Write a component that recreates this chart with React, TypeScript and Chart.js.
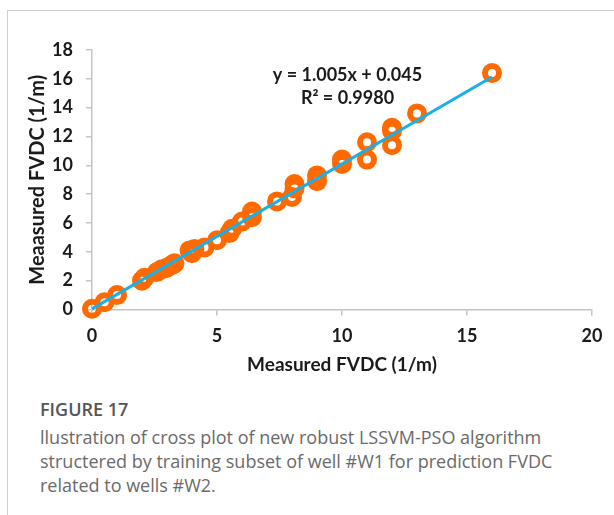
import React, { useEffect, useRef } from "react";
import { Chart, registerables } from "chart.js";

Chart.register(...registerables);

// Measured (x) vs predicted (y) FVDC values
const measuredX = [0, 0.5, 1.0, 2.0, 2.1, 2.6, 2.8, 3.0, 3.2, 3.3, 3.9, 4.0, 4.1, 4.5, 5.0, 5.5, 5.6, 6.0, 6.4, 6.4, 7.4, 8.0, 8.1, 8.1, 9.0, 9.0, 10.0, 10.0, 11.0, 11.0, 12.0, 12.0, 12.0, 13.0, 16.0];
const predictedY = [0.05, 0.5, 1.0, 2.0, 2.2, 2.6, 2.8, 2.9, 3.1, 3.2, 4.1, 3.9, 4.2, 4.3, 4.8, 5.3, 5.6, 6.1, 6.4, 6.8, 7.5, 7.8, 8.4, 8.7, 8.9, 9.3, 10.1, 10.4, 10.4, 11.6, 11.4, 12.4, 12.6, 13.6, 16.4];

// Linear trend line: y = slope * x + intercept, drawn between these x values
const trendSlope = 1.005;
const trendIntercept = 0.045;
const trendX = [0, 16];

const equationLabel = "y = 1.005x + 0.045";
const r2Label = "R² = 0.9980";

const xAxisTitle = "Measured FVDC (1/m)";
const yAxisTitle = "Meaasured FVDC (1/m)";

const captionTitle = "FIGURE 17";
const captionLines = [
  "llustration of cross plot of new robust LSSVM-PSO algorithm",
  "structered by training subset of well #W1 for prediction FVDC",
  "related to wells #W2.",
];

const FONT = "Lato, 'Open Sans', sans-serif";
const TEXT_DARK = "#1a1a1a";
const AXIS_GREY = "#c4c4c4";

export default function App() {
  const canvasRef = useRef<HTMLCanvasElement | null>(null);

  useEffect(() => {
    const canvas = canvasRef.current;
    if (!canvas) return;

    const scatterData = measuredX.map((x, i) => ({ x, y: predictedY[i] }));
    const trendData = trendX.map((x) => ({ x, y: trendSlope * x + trendIntercept }));

    const equationPlugin = {
      id: "equationText",
      afterDatasetsDraw(chart: any) {
        const { ctx, scales } = chart;
        const cx = scales.x.getPixelForValue(10.22);
        ctx.save();
        ctx.fillStyle = TEXT_DARK;
        ctx.font = `bold 18px ${FONT}`;
        ctx.textAlign = "center";
        ctx.textBaseline = "middle";
        ctx.fillText(equationLabel, cx, scales.y.getPixelForValue(16.27));
        ctx.fillText(r2Label, cx, scales.y.getPixelForValue(14.65));
        ctx.restore();
      },
    };

    const chart = new Chart(canvas, {
      type: "scatter",
      data: {
        datasets: [
          {
            type: "line",
            label: "Trend",
            data: trendData,
            borderColor: "#1aafe6",
            borderWidth: 3,
            pointRadius: 0,
            fill: false,
            clip: false,
            order: 0,
          } as any,
          {
            type: "scatter",
            label: "Data",
            data: scatterData,
            borderColor: "#ff6a00",
            backgroundColor: "rgba(0,0,0,0)",
            borderWidth: 6,
            pointRadius: 7,
            pointHoverRadius: 7,
            clip: false,
            order: 1,
          } as any,
        ],
      },
      options: {
        responsive: false,
        animation: false,
        layout: { padding: { left: 0, right: 22, top: 50, bottom: 0 } },
        plugins: {
          legend: { display: false },
          tooltip: { enabled: false },
        },
        scales: {
          x: {
            type: "linear",
            min: 0,
            max: 20,
            ticks: {
              stepSize: 5,
              color: TEXT_DARK,
              font: { family: FONT, size: 18, weight: "bold" },
              padding: 10,
            },
            grid: {
              drawOnChartArea: false,
              drawTicks: true,
              tickLength: 6,
              color: AXIS_GREY,
              lineWidth: 1.5,
            },
            border: { color: AXIS_GREY, width: 1.5 },
            title: {
              display: true,
              text: xAxisTitle,
              color: TEXT_DARK,
              font: { family: FONT, size: 19, weight: "bold" },
              padding: { top: 0, bottom: 8.5 },
            },
            afterFit(scale: any) {
              scale.height = 75.5;
            },
          },
          y: {
            type: "linear",
            min: 0,
            max: 18,
            ticks: {
              stepSize: 2,
              color: TEXT_DARK,
              font: { family: FONT, size: 18, weight: "bold" },
              padding: 13,
            },
            grid: {
              drawOnChartArea: false,
              drawTicks: true,
              tickLength: 6,
              color: AXIS_GREY,
              lineWidth: 1.5,
            },
            border: { color: AXIS_GREY, width: 1.5 },
            title: {
              display: true,
              text: yAxisTitle,
              color: TEXT_DARK,
              font: { family: FONT, size: 20, weight: "bold" },
              padding: { top: 26, bottom: 0 },
            },
            afterFit(scale: any) {
              scale.width = 92;
            },
          },
        },
      },
      plugins: [equationPlugin],
    });

    return () => chart.destroy();
  }, []);

  return (
    <div
      style={{
        position: "absolute",
        left: 0,
        top: 0,
        width: 614,
        height: 515,
        background: "#fff",
        overflow: "hidden",
      }}
    >
      <div
        style={{
          position: "absolute",
          left: 7,
          top: 10,
          width: 640,
          height: 540,
          borderLeft: "1px solid #cfcfcf",
          borderTop: "1px solid #cfcfcf",
        }}
      />
      <canvas
        ref={canvasRef}
        width={614}
        height={385}
        style={{ position: "absolute", left: 0, top: 0, width: 614, height: 385 }}
      />
      <div
        style={{
          position: "absolute",
          left: 40,
          top: 397,
          fontFamily: "'Open Sans', 'Noto Sans', sans-serif",
          fontSize: 18,
          fontWeight: 600,
          color: "#555",
          lineHeight: "24px",
        }}
      >
        {captionTitle}
      </div>
      <div
        style={{
          position: "absolute",
          left: 40,
          top: 425,
          fontFamily: "'Open Sans', 'Noto Sans', sans-serif",
          fontSize: 18,
          color: "#6a6a6a",
          lineHeight: "24px",
          whiteSpace: "nowrap",
        }}
      >
        {captionLines.map((l, i) => (
          <div key={i}>{l}</div>
        ))}
      </div>
    </div>
  );
}
